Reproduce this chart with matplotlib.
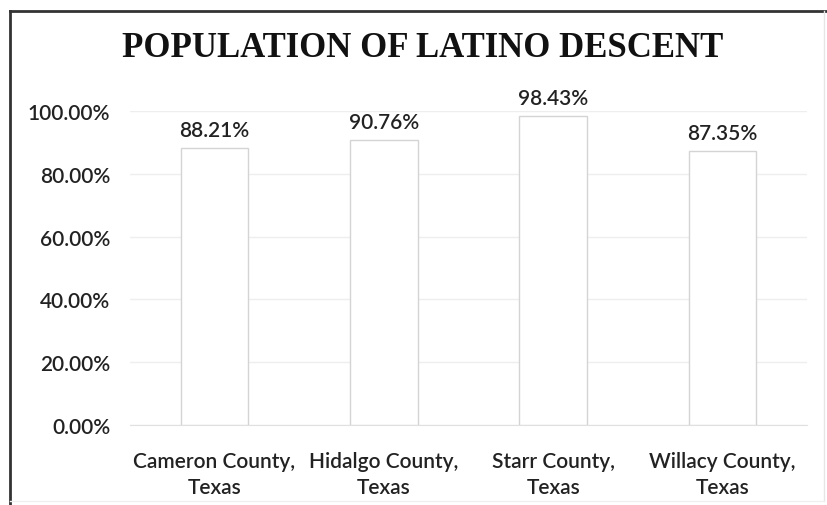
import matplotlib
matplotlib.use("Agg")
import matplotlib.pyplot as plt
from matplotlib.lines import Line2D
from matplotlib.ticker import PercentFormatter

counties = ["Cameron County,\nTexas", "Hidalgo County,\nTexas",
            "Starr County,\nTexas", "Willacy County,\nTexas"]
latino_share = [0.8821, 0.9076, 0.9843, 0.8735]
y_ticks = [0.0, 0.2, 0.4, 0.6, 0.8, 1.0]

LABEL_FONT = ["Lato", "DejaVu Sans"]
TEXT_COLOR = "#222222"

fig = plt.figure(figsize=(8.27, 5.06), dpi=100)
ax = fig.add_axes([0.157, 0.158, 0.819, 0.621])

x = range(len(counties))
ax.bar(x, latino_share, width=0.4, color="white", edgecolor="#d4d4d4",
       linewidth=1.0, zorder=3)

for xi, v in zip(x, latino_share):
    ax.text(xi, v + 0.025, f"{v * 100:.2f}%", ha="center", va="bottom",
            fontsize=15, fontweight="semibold", family=LABEL_FONT,
            color=TEXT_COLOR)

ax.set_xlim(-0.5, len(counties) - 0.5)
ax.set_ylim(0, 1.0)
ax.set_yticks(y_ticks)
ax.yaxis.set_major_formatter(PercentFormatter(1.0, decimals=2))
ax.set_xticks(list(x))
ax.set_xticklabels(counties)

for lbl in ax.get_xticklabels() + ax.get_yticklabels():
    lbl.set_family(LABEL_FONT)
    lbl.set_fontsize(15)
    lbl.set_fontweight("semibold")
    lbl.set_color(TEXT_COLOR)
    lbl.set_linespacing(1.35)

ax.tick_params(axis="both", length=0)
ax.tick_params(axis="y", pad=14)
ax.tick_params(axis="x", pad=19)
ax.grid(axis="y", color="#eeeeee", linewidth=1.0, zorder=0)
ax.set_axisbelow(True)
for side in ["top", "right", "left"]:
    ax.spines[side].set_visible(False)
ax.spines["bottom"].set_color("#e0e0e0")

fig.text(0.511, 0.905, "POPULATION OF LATINO DESCENT", ha="center",
         va="center", fontsize=25, fontweight="bold",
         family="Liberation Serif", color="#111111")

# frame around the chart
fig.add_artist(Line2D([0.012, 0.012], [0.0, 0.976], color="#333333", lw=2.0))
fig.add_artist(Line2D([0.012, 1.0], [0.976, 0.976], color="#333333", lw=2.0))
fig.add_artist(Line2D([0.996, 0.996], [0.008, 0.976], color="#e6e6e6", lw=1.0))
fig.add_artist(Line2D([0.012, 0.996], [0.008, 0.008], color="#f0f0f0", lw=1.0))

fig.savefig("out.png", dpi=100)
